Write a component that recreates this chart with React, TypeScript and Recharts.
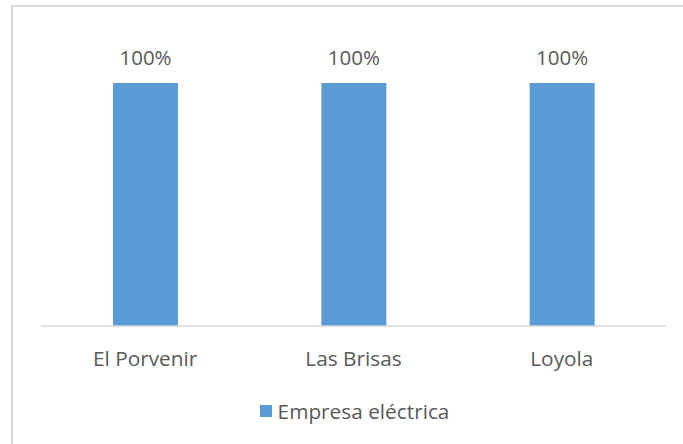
import React from "react";
import { BarChart, Bar, XAxis, YAxis, LabelList } from "recharts";

const categories = ["El Porvenir", "Las Brisas", "Loyola"];
const empresaElectrica = [100, 100, 100];
const seriesName = "Empresa eléctrica";

const data = categories.map((c, i) => ({ name: c, value: empresaElectrica[i] }));

const FONT = "'Open Sans', sans-serif";
const TEXT = "#595959";
const BAR = "#5B9BD5";

export default function App() {
  return (
    <div style={{ position: "absolute", left: 0, top: 0, width: 683, height: 444, background: "#fff", fontFamily: FONT }}>
      <div
        style={{
          position: "absolute",
          left: 11,
          top: 5,
          width: 672,
          height: 439,
          borderTop: "2px solid #d9d9d9",
          borderLeft: "2px solid #d9d9d9",
          boxSizing: "border-box",
        }}
      />
      <div style={{ position: "absolute", left: 0, top: 0 }}>
        <BarChart
          width={683}
          height={444}
          data={data}
          margin={{ top: 83, right: 17, left: 41, bottom: 58 }}
        >
          <YAxis hide domain={[0, 100]} />
          <XAxis
            dataKey="name"
            height={60}
            tickLine={false}
            tickSize={0}
            tickMargin={25}
            axisLine={{ stroke: "#d9d9d9", strokeWidth: 1.5 }}
            tick={{ fill: TEXT, fontSize: 20.8, fontFamily: FONT }}
            interval={0}
          />
          <Bar dataKey="value" name={seriesName} fill={BAR} barSize={65} isAnimationActive={false}>
            <LabelList
              dataKey="value"
              position="top"
              offset={18}
              formatter={(v: any) => `${v}%`}
              style={{ fill: TEXT, fontSize: 20.5, fontFamily: FONT }}
            />
          </Bar>
        </BarChart>
      </div>
      <div
        style={{
          position: "absolute",
          left: 0,
          top: 398,
          width: 683,
          height: 26,
          display: "flex",
          justifyContent: "center",
          alignItems: "center",
          paddingLeft: 26,
          boxSizing: "border-box",
        }}
      >
        <span style={{ display: "inline-block", width: 12, height: 12, background: BAR, marginRight: 6 }} />
        <span style={{ color: TEXT, fontSize: 20.8, fontFamily: FONT, lineHeight: "26px" }}>{seriesName}</span>
      </div>
    </div>
  );
}
